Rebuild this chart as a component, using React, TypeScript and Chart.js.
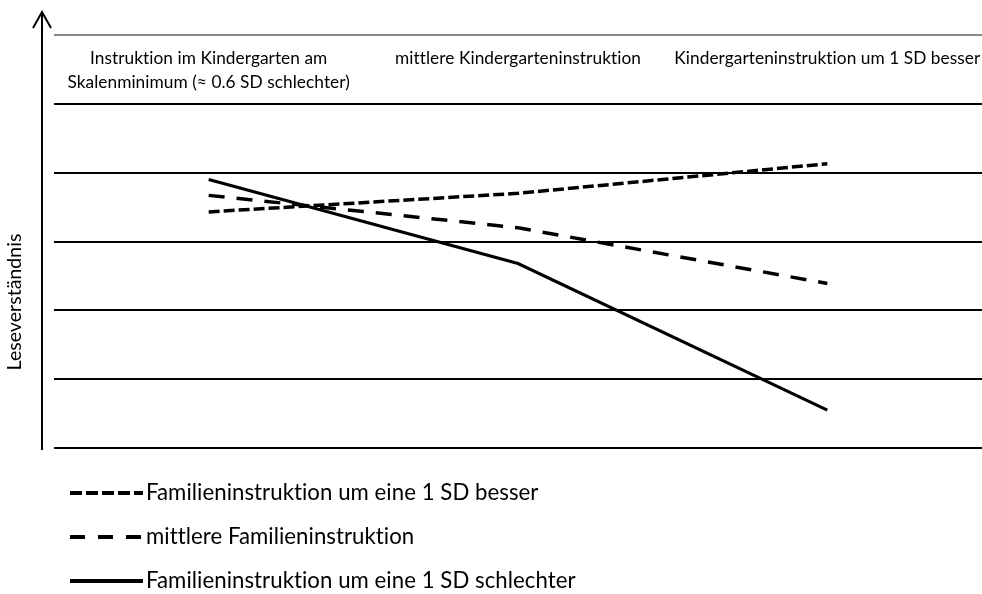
import React, { useEffect, useRef } from "react";
import { Chart, registerables } from "chart.js";

Chart.register(...registerables);

const categories = [
  ["Instruktion im Kindergarten am", "Skalenminimum (≈ 0.6 SD schlechter)"],
  ["mittlere Kindergarteninstruktion"],
  ["Kindergarteninstruktion um 1 SD besser"],
];
const seriesNames = [
  "Familieninstruktion um eine 1 SD besser",
  "mittlere Familieninstruktion",
  "Familieninstruktion um eine 1 SD schlechter",
];
const besser = [3.43, 3.7, 4.13];
const mittlere = [3.67, 3.2, 2.39];
const schlechter = [3.9, 2.68, 0.55];
const yTitle = "Leseverständnis";

const FONT = "Lato, 'Open Sans', sans-serif";

const decorPlugin = {
  id: "decor",
  afterDraw(chart: any) {
    const ctx = chart.ctx;
    const area = chart.chartArea;
    const xs = chart.scales.x;
    const ys = chart.scales.y;
    ctx.save();
    try {
      (ctx as any).letterSpacing = "0.05px";
    } catch (e) {}
    // y axis arrow
    const ax = area.left - 12;
    ctx.strokeStyle = "#000";
    ctx.lineWidth = 2;
    ctx.setLineDash([]);
    ctx.beginPath();
    ctx.moveTo(ax, area.bottom + 2);
    ctx.lineTo(ax, area.top - 22);
    ctx.stroke();
    ctx.beginPath();
    ctx.moveTo(ax - 9, area.top - 7);
    ctx.lineTo(ax, area.top - 23);
    ctx.lineTo(ax + 9, area.top - 7);
    ctx.stroke();
    // y title
    ctx.fillStyle = "#000";
    ctx.font = `19.5px ${FONT}`;
    ctx.textAlign = "center";
    ctx.textBaseline = "middle";
    ctx.save();
    ctx.translate(15, 302);
    ctx.rotate(-Math.PI / 2);
    ctx.fillText(yTitle, 0, 0);
    ctx.restore();
    // category labels in top band
    ctx.font = `17.3px ${FONT}`;
    const top = ys.getPixelForValue(6);
    categories.forEach((lines, i) => {
      const cx = xs.getPixelForValue(i);
      lines.forEach((ln, j) => {
        ctx.fillText(ln, cx, top + 23 + j * 24);
      });
    });
    // legend
    ctx.textAlign = "left";
    ctx.font = `22.2px ${FONT}`;
    chart.data.datasets.forEach((ds: any, i: number) => {
      const y = 493 + i * 44;
      ctx.strokeStyle = "#000";
      ctx.lineWidth = 4;
      ctx.setLineDash(ds.legendDash || []);
      ctx.beginPath();
      ctx.moveTo(70, y);
      ctx.lineTo(143, y);
      ctx.stroke();
      ctx.setLineDash([]);
      ctx.fillText(ds.label, 146, y);
    });
    ctx.restore();
  },
};

export default function App() {
  const ref = useRef<HTMLCanvasElement>(null);
  useEffect(() => {
    if (!ref.current) return;
    const chart = new Chart(ref.current, {
      type: "line",
      data: {
        labels: categories.map((c) => c.join(" ")),
        datasets: [
          {
            label: seriesNames[0],
            data: besser,
            borderColor: "#000",
            borderWidth: 3.5,
            borderDash: [11, 4],
            legendDash: [12, 4],
            pointRadius: 0,
            tension: 0,
          } as any,
          {
            label: seriesNames[1],
            data: mittlere,
            borderColor: "#000",
            borderWidth: 3.5,
            borderDash: [16, 12],
            legendDash: [15, 13],
            pointRadius: 0,
            tension: 0,
          } as any,
          {
            label: seriesNames[2],
            data: schlechter,
            borderColor: "#000",
            borderWidth: 3,
            borderDash: [],
            legendDash: [],
            pointRadius: 0,
            tension: 0,
          } as any,
        ],
      },
      options: {
        animation: false,
        responsive: false,
        maintainAspectRatio: false,
        layout: { padding: { left: 54, right: 0, top: 35, bottom: 146 } },
        plugins: { legend: { display: false }, tooltip: { enabled: false } },
        scales: {
          x: { type: "category", offset: true, display: false },
          y: {
            min: 0,
            max: 6,
            ticks: { display: false, stepSize: 1 },
            border: { display: false },
            grid: {
              drawTicks: false,
              color: (c: any) => (c.tick && c.tick.value === 6 ? "#8a8a8a" : "#000"),
              lineWidth: 2,
            },
          },
        },
      },
      plugins: [decorPlugin],
    });
    return () => chart.destroy();
  }, []);
  return (
    <div style={{ position: "fixed", left: 0, top: 0, width: 982, height: 594, background: "#fff" }}>
      <canvas ref={ref} width={982} height={594} style={{ width: 982, height: 594 }} />
    </div>
  );
}
